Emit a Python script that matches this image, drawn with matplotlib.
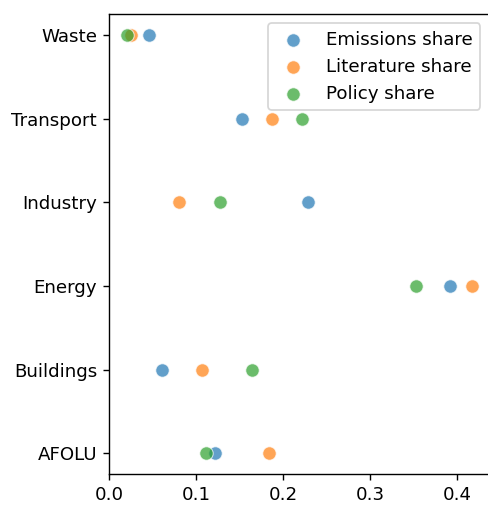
import matplotlib
matplotlib.use("Agg")
import matplotlib.pyplot as plt

plt.rcParams["font.size"] = 10.5

# Sectors, bottom to top
sectors = ["AFOLU", "Buildings", "Energy", "Industry", "Transport", "Waste"]

emissions_share = [0.1215, 0.060, 0.391, 0.228, 0.153, 0.046]
literature_share = [0.183, 0.107, 0.417, 0.080, 0.187, 0.0246]
policy_share = [0.111, 0.164, 0.352, 0.127, 0.222, 0.020]

series = [
    ("Emissions share", emissions_share, "#1f77b4"),
    ("Literature share", literature_share, "#ff7f0e"),
    ("Policy share", policy_share, "#2ca02c"),
]

fig = plt.figure(figsize=(488 / 125, 505 / 125), dpi=125)
ax = fig.add_axes([0.224, 0.061, 0.779, 0.911])

for label, values, color in series:
    ax.scatter(values, sectors, s=60, color=color, alpha=0.7,
               edgecolor="white", linewidth=0.6, label=label, zorder=3)

ax.set_xlim(left=0)
ax.set_xticks([0.0, 0.1, 0.2, 0.3, 0.4])
ax.legend(loc="upper right")

fig.savefig("out.png", dpi=125)
